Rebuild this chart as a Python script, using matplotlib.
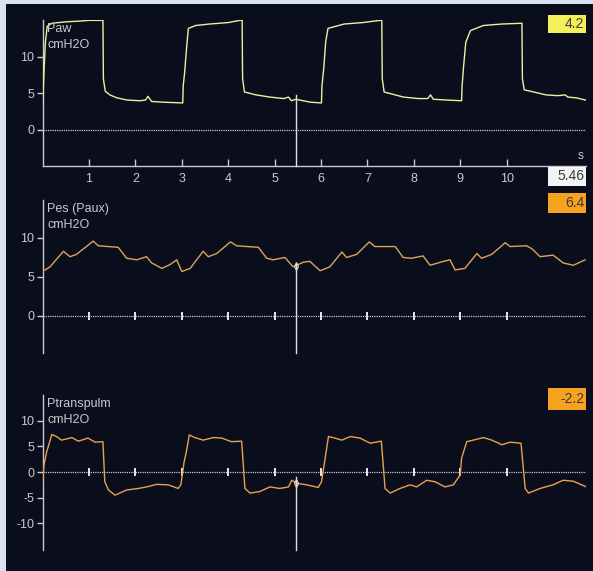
import matplotlib
matplotlib.use("Agg")
import matplotlib.pyplot as plt

plt.rcParams["axes.unicode_minus"] = False

# ---------------- data ----------------
paw_t = [0.00, 0.03, 0.06, 0.10, 0.20, 0.50, 0.80, 1.00, 1.30, 1.31, 1.35, 1.45, 1.60, 1.82, 2.10, 2.22,
         2.27, 2.35, 2.60, 3.02, 3.03, 3.06, 3.10, 3.14, 3.30, 3.60, 4.00, 4.25, 4.30, 4.31, 4.35, 4.60,
         4.90, 5.20, 5.30, 5.36, 5.46, 5.77, 6.01, 6.02, 6.06, 6.10, 6.15, 6.50, 6.90, 7.27, 7.31, 7.32,
         7.36, 7.78, 8.10, 8.30, 8.36, 8.42, 8.70, 9.03, 9.04, 9.07, 9.12, 9.22, 9.50, 9.90, 10.30, 10.33,
         10.34, 10.38, 10.85, 11.10, 11.26, 11.32, 11.50, 11.70]
paw_v = [3.2, 8.0, 12.0, 14.2, 14.6, 14.8, 14.9, 15.0, 15.0, 7.0, 5.3, 4.8, 4.4, 4.1, 4.0, 4.1,
         4.6, 3.9, 3.8, 3.7, 6.0, 7.8, 11.0, 13.9, 14.3, 14.5, 14.7, 15.0, 15.0, 7.0, 5.2, 4.8,
         4.5, 4.3, 4.5, 4.0, 4.2, 3.8, 3.7, 6.0, 8.5, 12.0, 13.9, 14.5, 14.7, 15.0, 15.0, 7.0,
         5.2, 4.5, 4.3, 4.3, 4.8, 4.2, 4.1, 4.0, 6.0, 8.5, 12.0, 13.6, 14.3, 14.5, 14.6, 14.6,
         7.0, 5.5, 4.8, 4.7, 4.8, 4.5, 4.4, 4.1]

pes_t = [0.00, 0.16, 0.45, 0.59, 0.73, 1.09, 1.20, 1.63, 1.81, 2.03, 2.24, 2.35, 2.57, 2.75, 2.89, 3.00,
         3.18, 3.46, 3.57, 3.75, 4.05, 4.18, 4.65, 4.83, 4.97, 5.22, 5.40, 5.62, 5.76, 5.98, 6.19, 6.45,
         6.55, 6.77, 7.04, 7.16, 7.60, 7.77, 7.95, 8.20, 8.35, 8.64, 8.78, 8.89, 9.10, 9.36, 9.46, 9.68,
         9.97, 10.07, 10.43, 10.55, 10.72, 11.00, 11.22, 11.44, 11.69]
pes_v = [5.7, 6.3, 8.3, 7.6, 7.9, 9.6, 9.0, 8.8, 7.4, 7.2, 7.6, 6.8, 6.1, 6.6, 7.2, 5.7,
         6.1, 8.3, 7.6, 8.0, 9.5, 9.0, 8.8, 7.4, 7.2, 7.5, 6.3, 6.9, 7.0, 5.8, 6.3, 8.2,
         7.5, 7.9, 9.5, 8.9, 8.9, 7.5, 7.4, 7.7, 6.5, 7.0, 7.2, 5.9, 6.1, 8.0, 7.4, 7.9,
         9.4, 8.9, 9.0, 8.6, 7.6, 7.8, 6.8, 6.5, 7.2]

ptp_t = [0.00, 0.03, 0.09, 0.20, 0.30, 0.41, 0.63, 0.77, 0.98, 1.13, 1.30, 1.34, 1.42, 1.56, 1.81, 2.06,
         2.24, 2.46, 2.71, 2.92, 2.98, 3.05, 3.10, 3.16, 3.28, 3.46, 3.68, 3.86, 4.07, 4.29, 4.36, 4.47,
         4.68, 4.90, 5.11, 5.30, 5.37, 5.48, 5.69, 5.94, 6.01, 6.09, 6.16, 6.26, 6.45, 6.63, 6.84, 7.06,
         7.30, 7.38, 7.49, 7.70, 7.92, 8.06, 8.28, 8.46, 8.67, 8.85, 9.00, 9.03, 9.14, 9.28, 9.50, 9.68,
         9.90, 10.07, 10.31, 10.40, 10.47, 10.72, 11.00, 11.22, 11.44, 11.72]
ptp_v = [-2.0, 1.4, 4.0, 7.3, 6.9, 6.2, 6.7, 6.0, 6.6, 5.8, 5.9, -1.9, -3.5, -4.5, -3.5, -3.2,
         -2.9, -2.4, -2.5, -3.2, -2.5, 2.0, 4.0, 7.2, 6.7, 6.2, 6.7, 6.6, 5.9, 6.0, -3.2, -4.1,
         -3.8, -2.9, -3.2, -2.9, -1.6, -2.2, -2.5, -3.0, -1.9, 2.7, 6.9, 6.7, 6.2, 6.9, 6.6, 5.6,
         6.0, -3.2, -4.1, -3.2, -2.5, -2.9, -1.6, -1.9, -2.9, -2.5, -0.6, 2.7, 5.9, 6.2, 6.7, 6.2,
         5.3, 5.8, 5.6, -3.2, -4.1, -3.2, -2.5, -1.6, -1.8, -2.9]

panel_names = ["Paw", "Pes (Paux)", "Ptranspulm"]
panel_units = ["cmH2O", "cmH2O", "cmH2O"]
panel_yticks = [[0, 5, 10], [0, 5, 10], [-10, -5, 0, 5, 10]]
panel_values = ["4.2", "6.4", "-2.2"]
time_ticks = [1, 2, 3, 4, 5, 6, 7, 8, 9, 10]
cursor_time = 5.46
cursor_label = "5.46"
cursor_top = [4.8, 6.6, -1.0]
cursor_point = [None, 6.4, -2.2]

# ---------------- style ----------------
W, H = 593, 571
BG = "#0a0e1c"
FG = "#c9c9c9"
trace_colors = ["#eeeea0", "#dca456", "#e9a14a"]
box_colors = ["#f4ef5a", "#f5a21f", "#f5a21f"]
NARROW = ["Liberation Sans", "DejaVu Sans"]

fig = plt.figure(figsize=(W / 100, H / 100), dpi=100, facecolor="#d8e3ef")


def px_axes(x0, y0, x1, y1):
    return fig.add_axes([x0 / W, 1 - y1 / H, (x1 - x0) / W, (y1 - y0) / H])


bg = px_axes(6, 4, W, H)
bg.set_facecolor(BG)
bg.set_xticks([])
bg.set_yticks([])
for s in bg.spines.values():
    s.set_visible(False)
bg.set_zorder(-5)

x_left, x_right = 42.6, 585.5
xmax = 11.7
geoms = [(20, 166, (-4.93, 15.05)), (200, 353, (-4.75, 14.87)), (395, 550, (-15.17, 14.98))]
series = [(paw_t, paw_v), (pes_t, pes_v), (ptp_t, ptp_v)]

for i, ((top, bot, ylim), (tt, vv)) in enumerate(zip(geoms, series)):
    ax = px_axes(x_left, top, x_right, bot)
    ax.set_facecolor("none")
    ax.set_xlim(0, xmax)
    ax.set_ylim(*ylim)
    for s in ["top", "right"]:
        ax.spines[s].set_visible(False)
    ax.spines["left"].set_color(FG)
    ax.spines["left"].set_linewidth(1.0)
    ax.set_yticks(panel_yticks[i])
    ax.tick_params(axis="y", colors=FG, length=4, width=1, direction="out", pad=2,
                   labelsize=9)
    for lab in ax.get_yticklabels():
        lab.set_family(NARROW)
    # zero line (dotted)
    ax.axhline(0, color=FG, lw=0.9, ls=(0, (1, 0.8)), zorder=1)
    if i == 0:
        ax.spines["bottom"].set_color(FG)
        ax.spines["bottom"].set_linewidth(1.0)
        ax.set_xticks(time_ticks)
        ax.tick_params(axis="x", colors=FG, length=5, width=1, direction="in", pad=5,
                       labelsize=9)
        for lab in ax.get_xticklabels():
            lab.set_family(NARROW)
        ax.text(0.997, 0.03, "s", transform=ax.transAxes, color=FG, fontsize=8.5,
                ha="right", va="bottom", family=NARROW)
    else:
        ax.spines["bottom"].set_visible(False)
        ax.set_xticks([])
        ax.plot(time_ticks, [0] * len(time_ticks), ls="none", marker="|", ms=6,
                mew=1.4, color="#e8e8e8", zorder=2)
    # trace
    ax.plot(tt, vv, color=trace_colors[i], lw=1.0, zorder=3)
    # cursor
    ax.plot([cursor_time, cursor_time], [cursor_top[i], ylim[0]], color="#e0e0e0",
            lw=1.0, zorder=4, clip_on=False)
    if cursor_point[i] is not None:
        ax.plot([cursor_time], [cursor_point[i]], marker="d", ms=4, mfc="none",
                mec="#e0e0e0", mew=0.8, zorder=5)
    # labels
    ax.text(4.5 / (x_right - x_left), 1 - 3 / (bot - top), panel_names[i],
            transform=ax.transAxes, color=FG, fontsize=9, ha="left", va="top",
            family=NARROW)
    ax.text(4.5 / (x_right - x_left), 1 - 19 / (bot - top), panel_units[i],
            transform=ax.transAxes, color=FG, fontsize=9, ha="left", va="top",
            family=NARROW)


def value_box(y0, y1, text, face):
    bx = fig.add_axes([548 / W, 1 - y1 / H, (586 - 548) / W, (y1 - y0) / H])
    bx.set_facecolor(face)
    bx.set_xticks([])
    bx.set_yticks([])
    for s in bx.spines.values():
        s.set_visible(False)
    bx.text(0.95, 0.5, text, transform=bx.transAxes, ha="right", va="center",
            color="#3a3a3a", fontsize=10, family=NARROW)


value_box(15, 33, panel_values[0], box_colors[0])
value_box(167, 186, cursor_label, "#f4f4f4")
value_box(193, 213, panel_values[1], box_colors[1])
value_box(388, 410, panel_values[2], box_colors[2])

fig.savefig("out.png", dpi=100, facecolor=fig.get_facecolor())
